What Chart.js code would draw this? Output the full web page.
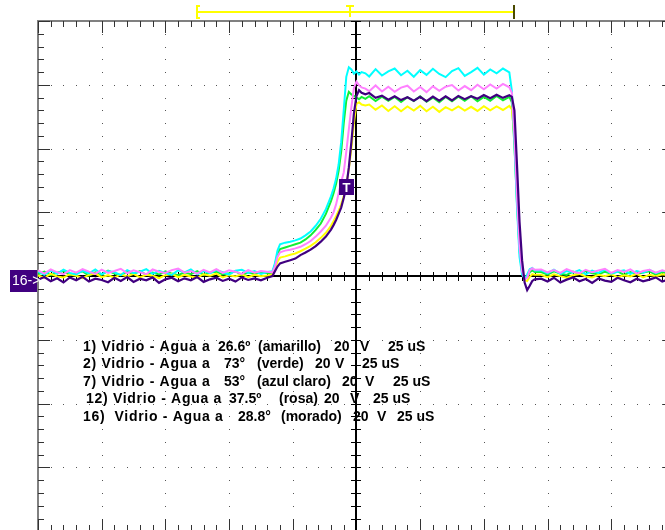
<!DOCTYPE html>
<html lang="es">
<head>
<meta charset="UTF-8">
<title>Vidrio - Agua</title>
<script src="https://cdn.jsdelivr.net/npm/chart.js"></script>
<style>
  html, body { margin: 0; padding: 0; background: #fff; }
  #wrap { position: relative; width: 665px; height: 530px; }
</style>
</head>
<body>
<div id="wrap"><canvas id="scope"></canvas></div>
<script>
// time in microseconds (25 uS/div), amplitude in volts (20 V/div)
const timeUs = [
  -125,-122.5,-120,-117.5,-115,-112.5,-110,-107.5,-105,-102.5,-100,-97.5,-95,-92.5,-90,-87.5,-85,-82.5,-80,-77.5,
  -75,-72.5,-70,-67.5,-65,-62.5,-60,-57.5,-55,-52.5,-50,-47.5,-45,-42.5,-40,-37.5,-35,
  -33,-32,-31,-30,-28,-26,-24,-22,-20,-18,-16,-14,-12,-10,-9,-8,-7,-6,-5,-4,-3,-2,-1,0,1,2,3.5,
  5,7.5,10,12.5,15,17.5,20,22.5,25,27.5,30,32.5,35,37.5,40,42.5,45,47.5,50,52.5,55,57.5,60,
  61,62,63,64,65,66,67,68,69,70,
  72.5,75,77.5,80,82.5,85,87.5,90,92.5,95,97.5,100,102.5,105,107.5,110,112.5,115,117.5,120,122.5
];

// 1) amarillo 26.6
const ch1Amarillo = [
  0.2,-0.5,0.7,-0.1,-0.4,0.6,0.1,-0.6,0.4,0.8,-0.3,0.3,-0.5,0.6,-0.1,0.7,-0.4,0.4,0.1,-0.6,
  0.3,0.7,-0.3,0.4,-0.1,-0.5,0.6,0.1,0.8,-0.4,0.3,-0.1,0.6,-0.3,0.4,0.0,0.2,
  0.5,2.5,4.5,5.8,6.2,6.7,7.1,7.8,8.6,9.5,10.6,12,13.6,15.8,17.2,18.8,20.5,22.5,25,28.5,33.5,40,48,54,54.5,53.8,53.5,
  53.8,52.2,53.5,51.8,53.3,51.7,53.2,51.9,53.4,51.7,53.1,51.5,53.0,52.0,53.2,51.9,53.1,51.8,53.3,52.0,53.2,52.1,53.4,
  52.3,44,27,11,2,-1.2,-1.5,-0.2,0.6,0.4,
  0.4,-0.3,0.6,0.0,-0.5,0.3,0.7,-0.1,-0.4,0.4,0.0,0.6,-0.3,0.3,-0.1,0.7,-0.4,0.4,0.0,0.6,0.2
];

// 2) verde 73
const ch2Verde = [
  0.6,1.4,0.3,1.1,1.6,0.4,0.9,1.5,0.2,1.2,0.5,1.7,0.8,0.3,1.4,0.7,1.6,0.4,1.1,0.5,
  1.5,0.8,0.3,1.2,0.6,1.6,0.4,1.1,1.4,0.5,0.9,1.5,0.4,1.1,0.7,1.3,0.9,
  1,3.5,7,8.5,9,9.5,10,10.5,11.5,12.8,14.5,16.5,19.5,23.5,26,29,33,39,48,55,57.8,57,56.5,56,55.5,56.2,55.6,
  56.4,54.9,56.3,55.0,56.2,54.6,56.1,54.9,56.4,54.7,56.0,54.5,56.2,54.8,56.3,55.0,56.4,54.8,56.2,55.0,56.5,55.1,56.2,
  54.5,41,23,8,1.2,-0.8,-0.3,1.2,1.8,1.3,
  1.3,0.5,1.5,0.8,0.4,1.4,0.7,1.6,0.9,0.5,1.4,0.8,1.5,0.4,1.3,0.7,1.1,1.5,0.5,1.2,0.9
];

// 7) azul claro 53
const ch7AzulClaro = [
  1.4,0.4,1.8,0.7,2.0,1.0,0.5,1.7,0.9,2.1,0.6,1.6,1.2,0.3,1.9,0.9,1.4,2.2,0.7,1.7,
  1.0,0.4,1.8,1.2,2.1,0.6,1.6,0.9,1.9,1.2,0.5,1.7,2.0,1.0,1.6,0.7,1.3,
  1.5,4,8,10,10.5,10.8,11.2,11.8,12.8,14,15.8,18,21,25,27.5,30.5,35,42,52,62.5,65.5,64.8,63.5,64.2,63.2,64,63.6,
  62.6,64.9,62.9,64.2,65.1,63.0,64.4,62.5,64.6,63.1,65.0,63.4,62.4,64.3,65.2,62.8,64.0,65.3,63.2,64.8,63.6,65.1,63.9,
  58,42,22,6,0.5,-0.8,0.5,2.2,2.6,1.8,
  1.8,0.9,2.0,0.7,1.6,1.1,1.9,0.6,1.7,1.0,2.1,0.8,1.4,1.8,0.7,1.6,1.1,2.0,0.9,1.7,1.3
];

// 12) rosa 37.5
const ch12Rosa = [
  1.8,0.8,2.1,1.2,0.6,1.9,1.1,2.2,1.4,0.7,2.0,1.0,1.6,2.3,0.9,1.8,1.2,0.6,2.1,1.4,
  1.0,1.9,2.4,1.1,1.6,0.8,2.0,1.2,2.2,1.0,1.8,1.4,0.7,1.9,1.1,1.6,1.4,
  1.2,3,6,7.5,8,8.3,8.7,9.2,10,11,12.4,14,15.8,18.4,20,22.5,26,29.5,32.5,39,46,53,59,61,59.8,59.2,58.8,
  58.0,59.8,57.9,59.4,57.8,59.1,59.7,57.9,59.3,57.7,59.5,58.1,59.4,59.9,58.2,59.6,58.3,60.0,58.6,60.1,58.8,60.3,59.2,
  57.5,44,25,9,1.5,-1,-0.5,1.8,2.5,2,
  2.1,1.2,1.9,1.0,2.2,1.4,0.9,2.0,1.2,1.8,2.3,1.0,1.9,1.3,2.1,0.8,1.6,2.0,1.1,1.8,1.4
];

// 16) morado 28.8
const ch16Morado = [
  -1.1,-0.3,-1.6,-0.7,-2.0,-0.4,-1.3,-0.2,-1.7,-0.8,-1.2,-1.9,-0.5,-1.5,-0.3,-1.8,-0.8,-1.3,-0.4,-2.1,
  -1.0,-0.5,-1.6,-0.7,-1.3,-0.3,-1.8,-1.0,-0.5,-1.5,-0.8,-1.7,-0.4,-1.2,-0.7,-1.3,-0.5,
  0,1.5,3,4,4.5,5,5.5,6.6,7.4,8.3,9.4,10.8,12.4,14.6,16,17.6,19.5,21.5,24.5,28,34,42,51,56.5,58.3,57.5,57,
  57.4,55.9,56.6,55.3,56.4,55.2,56.1,55.0,56.2,54.9,56.3,55.0,56.4,55.1,56.5,55.5,56.4,55.6,56.8,55.8,56.9,55.9,56.7,
  56.2,52,35,17,5,-2,-4.4,-3,-1.5,-1,
  -0.8,-1.7,-0.5,-2.0,-1.1,-0.4,-1.6,-0.9,-2.1,-0.7,-1.4,-1.8,-0.5,-1.3,-1.9,-0.8,-1.6,-1.1,-0.4,-1.7,-1.0
];

// graticule: 10 x 8 divisions
const xMajor = [-125, -100, -75, -50, -25, 0, 25, 50, 75, 100, 125];
const yMajor = [-80, -60, -40, -20, 0, 20, 40, 60, 80];
const xMinorStep = 5;
const yMinorStep = 4;

// trigger and acquisition window markers
const triggerTime = -4.3;
const triggerLevel = 27.8;
const windowStart = -62.4;
const windowEnd = 62.0;
const windowMark = -2.4;

const legendLines = [
  ['1) Vidrio - Agua a', '26.6º', '(amarillo)', '20', 'V', '25 uS'],
  ['2) Vidrio - Agua a', '73°', '(verde)', '20', 'V', '25 uS'],
  ['7) Vidrio - Agua a', '53°', '(azul claro)', '20', 'V', '25 uS'],
  ['12) Vidrio - Agua a', '37.5º', '(rosa)', '20', 'V', '25 uS'],
  ['16)  Vidrio - Agua a', '28.8°', '(morado)', '20', 'V', '25 uS']
];

const series = [
  { label: '16) morado', values: ch16Morado, color: '#400080', width: 2.2 },
  { label: '12) rosa', values: ch12Rosa, color: '#ff80ff', width: 2 },
  { label: '7) azul claro', values: ch7AzulClaro, color: '#00ffff', width: 2 },
  { label: '1) amarillo', values: ch1Amarillo, color: '#ffff00', width: 2 },
  { label: '2) verde', values: ch2Verde, color: '#11ee33', width: 2 }
];

// text layout (pixels)
const legendX = [
  [83, 218, 258, 334, 360, 388],
  [83, 224, 257, 315, 335, 362],
  [83, 224, 257, 342, 365, 393],
  [86, 229, 279, 324, 350, 373],
  [83, 238, 281, 353, 377, 397]
];
const legendY = [347, 364.5, 382, 399.5, 417];

const scopeDecor = {
  id: 'scopeDecor',
  beforeDatasetsDraw(chart) {
    const { ctx, scales: { x, y } } = chart;
    const px = v => Math.round(x.getPixelForValue(v));
    const py = v => Math.round(y.getPixelForValue(v));
    const xMin = xMajor[0], xMax = xMajor[xMajor.length - 1];
    const yMin = yMajor[0], yMax = yMajor[yMajor.length - 1];
    ctx.save();

    // dotted graticule
    ctx.fillStyle = '#555';
    xMajor.forEach(t => {
      if (t === 0 || t === xMin || t === xMax) return;
      for (let v = yMin; v <= yMax; v += yMinorStep) ctx.fillRect(px(t), py(v), 1, 1);
    });
    yMajor.forEach(v => {
      if (v === 0 || v === yMin || v === yMax) return;
      for (let t = xMin; t <= xMax; t += xMinorStep) ctx.fillRect(px(t), py(v), 1, 1);
    });

    // outer frame
    const L = px(xMin), R = px(xMax), T = py(yMax), B = py(yMin);
    ctx.strokeStyle = '#808080';
    ctx.lineWidth = 2;
    ctx.strokeRect(L, T, R - L, B - T);

    // frame ticks
    ctx.strokeStyle = '#333';
    ctx.lineWidth = 1;
    ctx.beginPath();
    for (let t = xMin; t <= xMax; t += xMinorStep) {
      const len = t % 25 === 0 ? 12 : 6;
      const xx = px(t) + 0.5;
      ctx.moveTo(xx, T); ctx.lineTo(xx, T + len);
      ctx.moveTo(xx, B); ctx.lineTo(xx, B - len);
    }
    for (let v = yMin; v <= yMax; v += yMinorStep) {
      const len = v % 20 === 0 ? 12 : 6;
      const yy = py(v) + 0.5;
      ctx.moveTo(L, yy); ctx.lineTo(L + len, yy);
      ctx.moveTo(R, yy); ctx.lineTo(R - len, yy);
    }
    ctx.stroke();

    // centre axes with ticks
    const x0 = px(0), y0 = py(0);
    ctx.strokeStyle = '#000';
    ctx.lineWidth = 2;
    ctx.beginPath();
    ctx.moveTo(x0, T); ctx.lineTo(x0, B);
    ctx.moveTo(L, y0); ctx.lineTo(R, y0);
    ctx.stroke();
    ctx.lineWidth = 1;
    ctx.beginPath();
    for (let t = xMin; t <= xMax; t += xMinorStep) {
      const xx = px(t) + 0.5;
      ctx.moveTo(xx, y0 - 4); ctx.lineTo(xx, y0 + 5);
    }
    for (let v = yMin; v <= yMax; v += yMinorStep) {
      const yy = py(v) + 0.5;
      ctx.moveTo(x0 - 5, yy); ctx.lineTo(x0 + 5, yy);
    }
    ctx.stroke();
    ctx.restore();
  },
  afterDatasetsDraw(chart) {
    const { ctx, scales: { x, y } } = chart;
    const px = v => Math.round(x.getPixelForValue(v));
    const py = v => Math.round(y.getPixelForValue(v));
    ctx.save();

    // ground marker of channel 16
    const y0 = py(0);
    ctx.fillStyle = '#400080';
    ctx.fillRect(10, y0 - 6, px(xMajor[0]) - 11, 22);
    ctx.fillStyle = '#fff';
    ctx.font = '14px "Liberation Sans", Arial, sans-serif';
    ctx.textBaseline = 'middle';
    ctx.textAlign = 'left';
    ctx.fillText('16->', 12, y0 + 5);

    // trigger marker
    const tx = px(triggerTime), ty = py(triggerLevel);
    ctx.fillStyle = '#400080';
    ctx.fillRect(tx - 7, ty - 8, 15, 16);
    ctx.fillStyle = '#fff';
    ctx.font = 'bold 13px "Liberation Sans", Arial, sans-serif';
    ctx.textAlign = 'center';
    ctx.fillText('T', tx + 0.5, ty + 1);

    // acquisition window bracket at the top
    const a = px(windowStart), b = px(windowEnd), m = px(windowMark);
    ctx.strokeStyle = '#ffff00';
    ctx.lineWidth = 2;
    ctx.beginPath();
    ctx.moveTo(a, 12); ctx.lineTo(b, 12);
    ctx.moveTo(a, 5); ctx.lineTo(a, 19);
    ctx.moveTo(a, 6); ctx.lineTo(a + 3, 6);
    ctx.moveTo(a, 18); ctx.lineTo(a + 3, 18);
    ctx.moveTo(m - 4, 6); ctx.lineTo(m + 4, 6);
    ctx.moveTo(m, 6); ctx.lineTo(m, 17);
    ctx.stroke();
    ctx.strokeStyle = '#4a4a00';
    ctx.beginPath();
    ctx.moveTo(b, 5); ctx.lineTo(b, 19);
    ctx.stroke();

    // channel notes (only the first part is spaced out)
    ctx.fillStyle = '#000';
    ctx.font = 'bold 14px "Liberation Sans", Arial, sans-serif';
    ctx.textAlign = 'left';
    ctx.textBaseline = 'middle';
    legendLines.forEach((parts, i) => {
      parts.forEach((s, j) => {
        if ('letterSpacing' in ctx) ctx.letterSpacing = j === 0 ? '0.7px' : '0px';
        ctx.fillText(s, legendX[i][j], legendY[i]);
      });
    });
    ctx.restore();
  }
};

new Chart(document.getElementById('scope'), {
  type: 'line',
  data: {
    datasets: series.map(s => ({
      label: s.label,
      data: timeUs.map((t, i) => ({ x: t, y: s.values[i] })),
      borderColor: s.color,
      borderWidth: s.width,
      pointRadius: 0,
      tension: 0,
      fill: false
    }))
  },
  options: {
    responsive: true,
    maintainAspectRatio: false,
    animation: false,
    layout: { padding: { left: 38, top: 21, right: 0, bottom: 0 } },
    scales: {
      x: { type: 'linear', min: -125, max: 121.1, display: false },
      y: { type: 'linear', min: -79.6, max: 80, display: false }
    },
    plugins: { legend: { display: false }, tooltip: { enabled: false } }
  },
  plugins: [scopeDecor]
});
</script>
</body>
</html>
